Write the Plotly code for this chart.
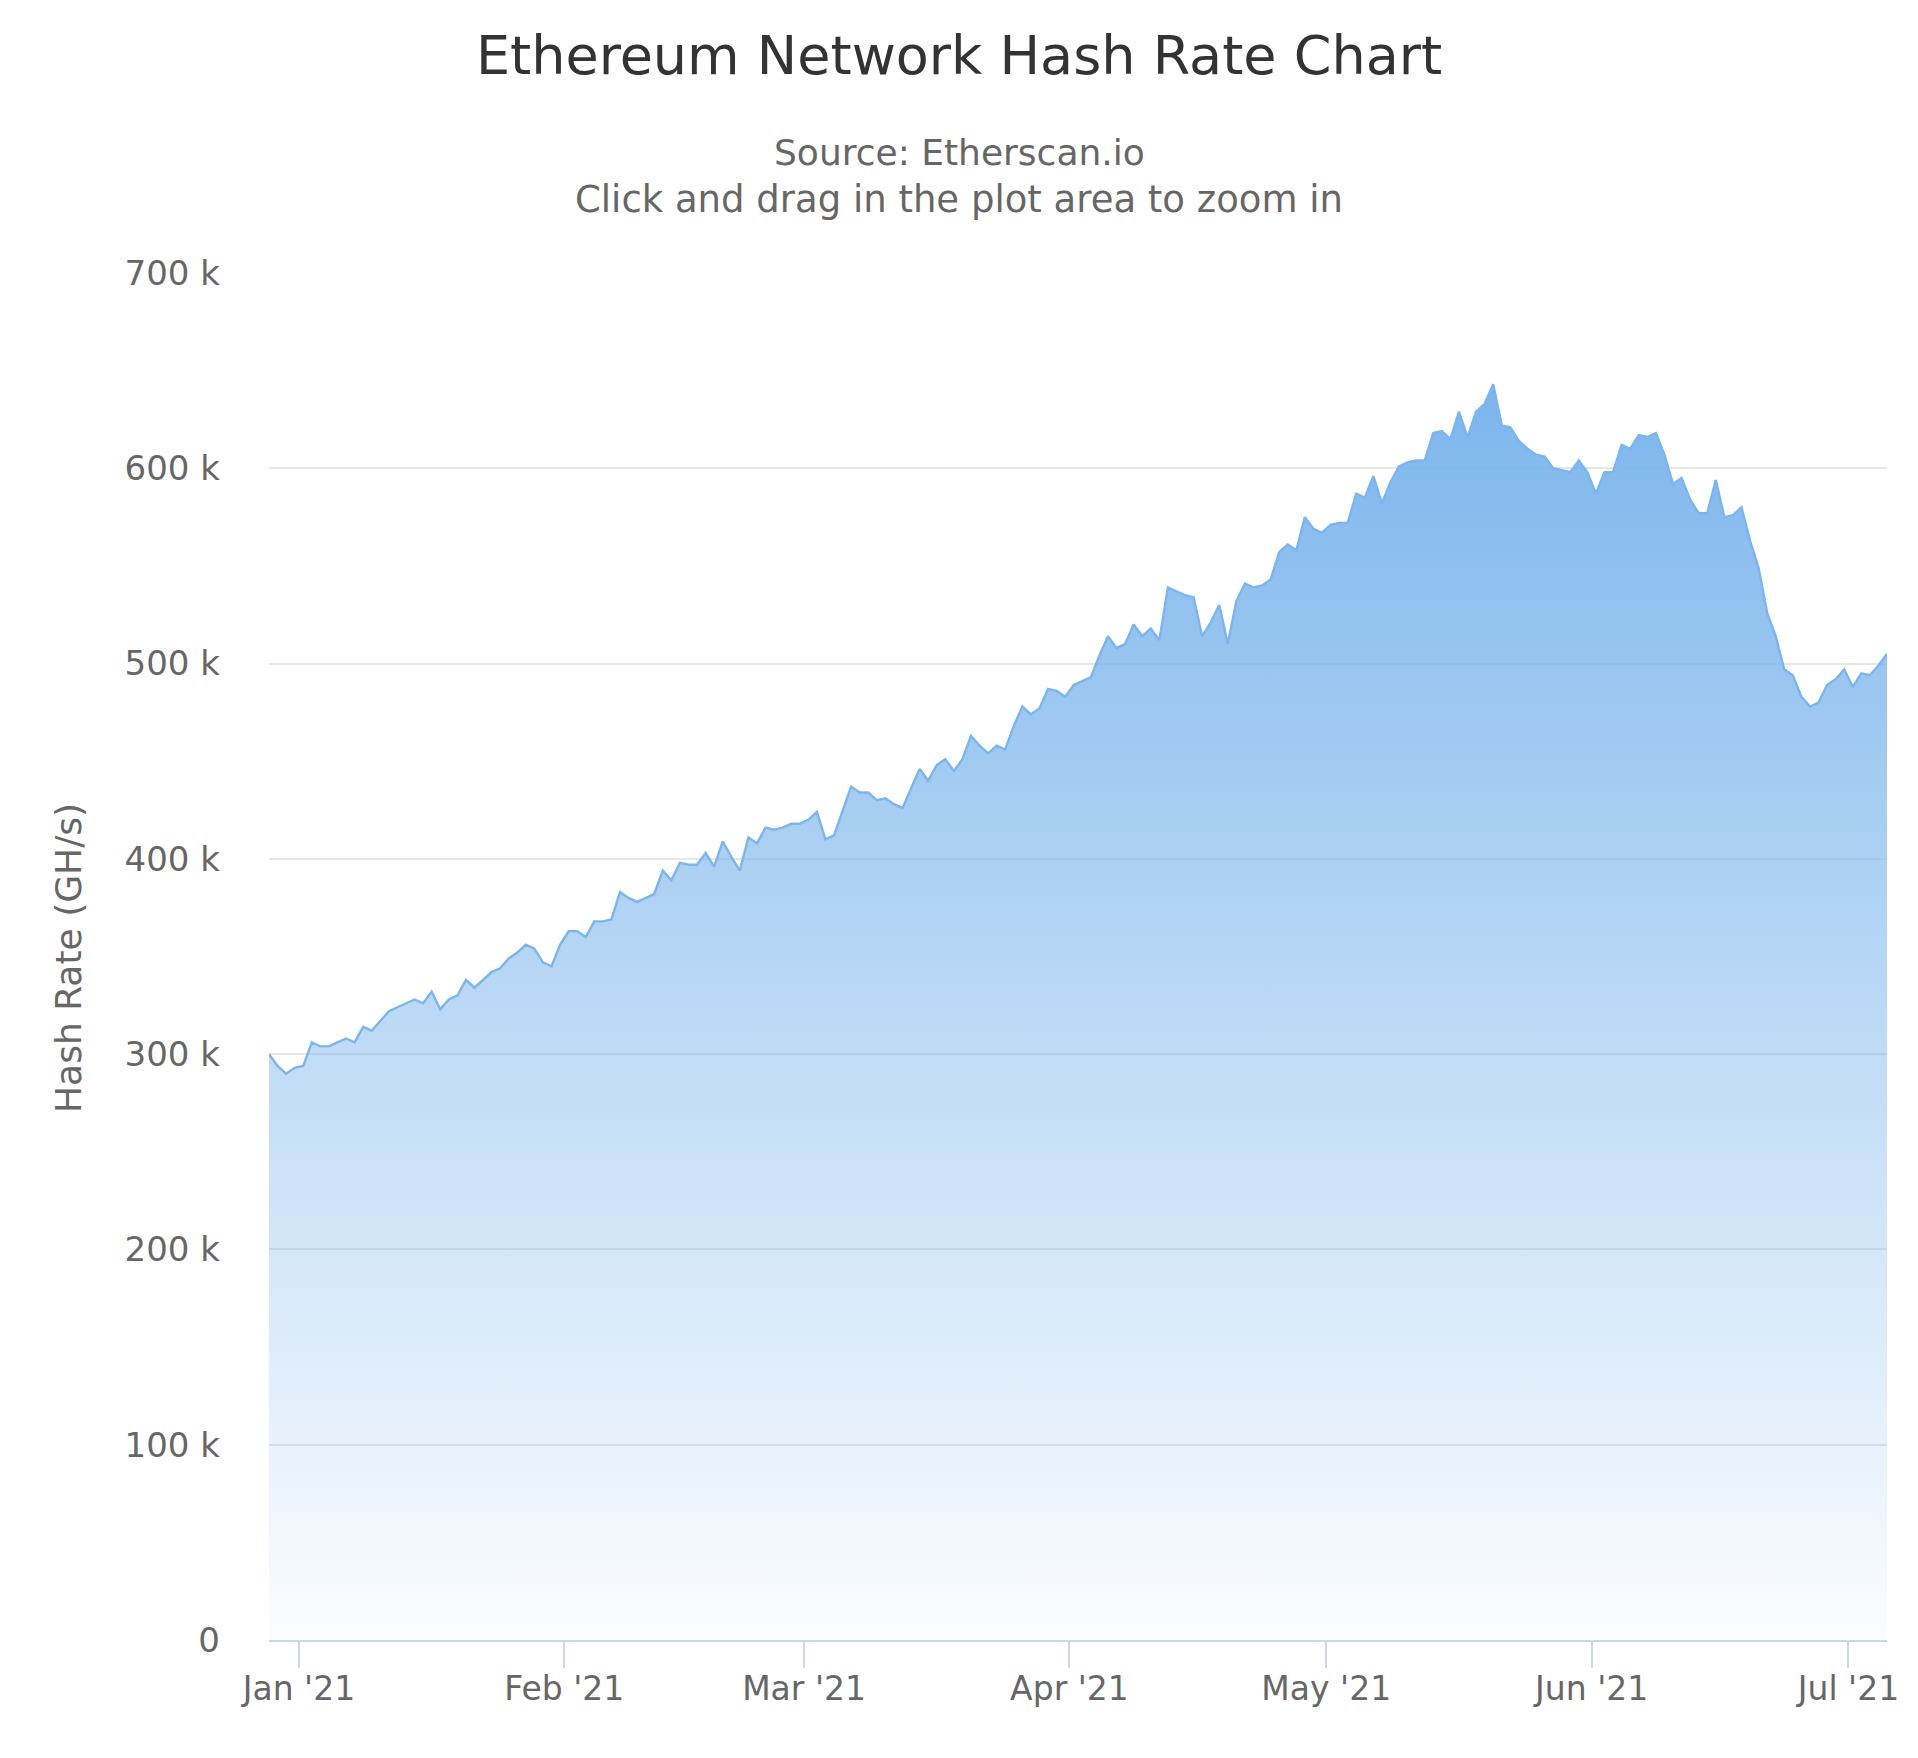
import plotly.graph_objects as go
import pandas as pd

# ---- data (values in thousands of GH/s), daily samples ----
start_date = "2020-12-28 12:00"
hash_rate_k = [
    300, 294, 290, 293, 294,
    306, 304, 304, 306, 308, 306, 314, 312, 317, 322,
    324, 326, 328, 326, 332, 323, 328, 330, 338, 334,
    338, 342, 344, 349, 352, 356, 354, 347, 345, 356,
    363, 363, 360, 368, 368, 369, 383, 380, 378, 380,
    382, 394, 389, 398, 397, 397, 403, 396, 409, 401,
    394, 411, 408, 416, 415, 416, 418, 418, 420, 424,
    410, 412, 424, 437, 434, 434, 430, 431, 428, 426,
    436, 446, 440, 448, 451, 445, 451, 463, 458, 454,
    458, 456, 468, 478, 474, 477, 487, 486, 483, 489,
    491, 493, 504, 514, 508, 510, 520, 514, 518, 512,
    539, 537, 535, 534, 514, 521, 530, 510, 532, 541,
    539, 540, 543, 557, 561, 558, 575, 569, 567, 571,
    572, 572, 587, 585, 596, 582, 593, 601, 603, 604,
    604, 618, 619, 615, 629, 616, 629, 633, 643, 622,
    621, 614, 610, 607, 606, 600, 599, 598, 604, 598,
    587, 598, 598, 612, 610, 617, 616, 618, 607, 592,
    595, 584, 577, 577, 594, 575, 576, 580, 563, 549,
    526, 514, 497, 494, 483, 478, 480, 489, 492, 497,
    488, 495, 494, 499, 505,
]
x_tick_dates = ["2021-01-01", "2021-02-01", "2021-03-01", "2021-04-01",
                "2021-05-01", "2021-06-01", "2021-07-01"]
x_tick_labels = ["Jan '21", "Feb '21", "Mar '21", "Apr '21",
                 "May '21", "Jun '21", "Jul '21"]
y_tick_values = [0, 100000, 200000, 300000, 400000, 500000, 600000, 700000]
y_tick_labels = ["0", "100 k", "200 k", "300 k", "400 k", "500 k", "600 k", "700 k"]

title_text = "Ethereum Network Hash Rate Chart"
subtitle_lines = ["Source: Etherscan.io", "Click and drag in the plot area to zoom in"]
y_title = "Hash Rate (GH/s)"

dates = pd.date_range(start_date, periods=len(hash_rate_k), freq="D")
values = [v * 1000 for v in hash_rate_k]

FONT = "Lucida Grande, DejaVu Sans, sans-serif"
OFF = 8  # default page body margin
W, H = 1918 - 2 * OFF, 1758 - 2 * OFF
ML, MT = 269 - OFF, 273 - OFF
MR = W - (1887 - OFF)
MB = H - (1640 - OFF)
PW = W - ML - MR
PH = H - MT - MB

fig = go.Figure()
fig.add_trace(go.Scatter(
    x=dates, y=values, mode="lines",
    line=dict(color="#7cb5ec", width=2.4),
    fill="tozeroy",
    fillgradient=dict(
        type="vertical",
        colorscale=[[0.0, "rgba(124,181,236,0.03)"], [1.0, "rgba(124,181,236,1)"]],
    ),
    hoverinfo="x+y",
    showlegend=False,
))

fig.update_layout(
    width=W, height=H,
    margin=dict(l=ML, r=MR, t=MT, b=MB),
    paper_bgcolor="white", plot_bgcolor="white",
    font=dict(family=FONT, color="#666666"),
    title=dict(text=title_text, x=(959 - OFF) / W, xanchor="center",
               y=1 - (55 - OFF) / H, yanchor="middle", yref="container",
               font=dict(size=54, color="#333333", family=FONT)),
    xaxis=dict(
        type="date",
        range=[dates[0], dates[-1]],
        tickvals=x_tick_dates, ticktext=x_tick_labels,
        ticks="outside", ticklen=26, tickwidth=2, tickcolor="#ccd6eb",
        ticklabelstandoff=-8,
        showline=True, linecolor="#ccd6eb", linewidth=2,
        showgrid=False, zeroline=False,
        tickfont=dict(size=33, color="#666666", family=FONT),
    ),
    yaxis=dict(
        range=[0, 700000],
        tickvals=y_tick_values, ticktext=y_tick_labels,
        showgrid=True, gridcolor="#e6e6e6", gridwidth=2,
        zeroline=False, showline=False, ticks="",
        ticklabelstandoff=48,
        tickfont=dict(size=34, color="#666666", family=FONT),
    ),
)

# subtitle lines (absolute page pixel centres converted to paper coords)
center_x_abs = 959
for text, ypix, fs in zip(subtitle_lines, [153, 199], [36, 37]):
    fig.add_annotation(text=text, xref="paper", yref="paper",
                       x=(center_x_abs - OFF - ML) / PW,
                       y=1 + (MT - (ypix - OFF)) / PH,
                       xanchor="center", yanchor="middle", showarrow=False,
                       font=dict(size=fs, color="#666666", family=FONT))

# y-axis title
fig.add_annotation(text=y_title, xref="paper", yref="paper",
                   x=(68 - OFF - ML) / PW, y=(H - MB - (958 - OFF)) / PH,
                   xanchor="center", yanchor="middle", textangle=-90,
                   showarrow=False,
                   font=dict(size=36, color="#666666", family=FONT))

fig.write_html("out.html")
